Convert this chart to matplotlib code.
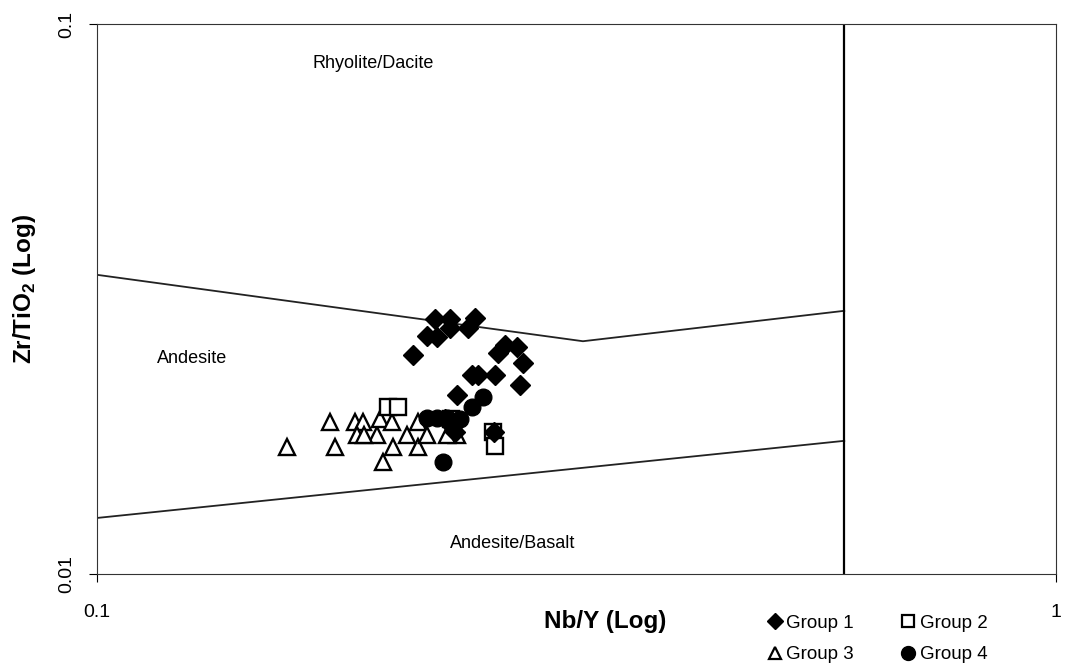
import matplotlib
matplotlib.use("Agg")
import matplotlib.pyplot as plt
from matplotlib.lines import Line2D

plt.rcParams["font.family"] = ["Liberation Sans", "DejaVu Sans"]

# Nb/Y vs Zr/TiO2 sample groups
g1_x = [0.2252, 0.2335, 0.2480, 0.2335, 0.2438, 0.2209, 0.2263, 0.2136, 0.2663,
        0.2741, 0.2619, 0.2781, 0.2761, 0.2462, 0.2497, 0.2600, 0.2375, 0.2307,
        0.2363, 0.2594]
g1_y = [0.0291, 0.0291, 0.0292, 0.0280, 0.0280, 0.0271, 0.0270, 0.0250, 0.0261,
        0.0259, 0.0252, 0.0242, 0.0221, 0.0230, 0.0230, 0.0230, 0.0212, 0.0191,
        0.0181, 0.0181]

g2_x = [0.2012, 0.2061, 0.2588, 0.2600, 0.2340]
g2_y = [0.0201, 0.0201, 0.0181, 0.0171, 0.0191]

g3_x = [0.1578, 0.1750, 0.1771, 0.1858, 0.1895, 0.1867, 0.1959, 0.1974, 0.2032,
        0.2037, 0.1988, 0.2106, 0.2162, 0.2162, 0.2209, 0.2375, 0.1900, 0.2318]
g3_y = [0.0170, 0.0189, 0.0170, 0.0189, 0.0189, 0.0179, 0.0179, 0.0191, 0.0189,
        0.0170, 0.0160, 0.0179, 0.0189, 0.0170, 0.0179, 0.0179, 0.0179, 0.0179]

g4_x = [0.2527, 0.2462, 0.2296, 0.2209, 0.2263, 0.2318, 0.2392, 0.2352]
g4_y = [0.0210, 0.0201, 0.0160, 0.0192, 0.0192, 0.0192, 0.0191, 0.0185]

# field boundaries
upper_x = [0.1, 0.321, 0.601]
upper_y = [0.0350, 0.0265, 0.0301]
lower_x = [0.1, 0.601]
lower_y = [0.01264, 0.01746]
divider_x = 0.601

fields = [
    ("Rhyolite/Dacite", 0.194, 0.0849),
    ("Andesite", 0.1256, 0.0247),
    ("Andesite/Basalt", 0.271, 0.01137),
]

fig = plt.figure(figsize=(10.66, 6.72), dpi=100)
ax = fig.add_axes([0.091, 0.146, 0.900, 0.818])
ax.set_xscale("log")
ax.set_yscale("log")
ax.set_xlim(0.1, 1)
ax.set_ylim(0.01, 0.1)

ax.plot(upper_x, upper_y, color="#222222", lw=1.3, zorder=2)
ax.plot(lower_x, lower_y, color="#222222", lw=1.3, zorder=2)
ax.axvline(divider_x, color="black", lw=1.6, zorder=2)

ax.plot(g3_x, g3_y, ls="none", marker="^", ms=12, mfc="white", mec="black",
        mew=1.7, zorder=3)
ax.plot(g2_x, g2_y, ls="none", marker="s", ms=11, mfc="white", mec="black",
        mew=1.7, zorder=3)
ax.plot(g4_x, g4_y, ls="none", marker="o", ms=12, color="black", zorder=4)
ax.plot(g1_x, g1_y, ls="none", marker="D", ms=10, color="black", zorder=5)

for name, fx, fy in fields:
    ax.text(fx, fy, name, ha="center", va="center", fontsize=13)

ax.set_xticks([0.1, 1])
ax.set_xticklabels(["0.1", "1"], fontsize=14)
ax.set_yticks([0.01, 0.1])
ax.set_yticklabels(["0.01", "0.1"], fontsize=14, rotation=90, va="center")
ax.minorticks_off()
ax.tick_params(axis="x", length=6, pad=16, width=0.8)
ax.tick_params(axis="y", length=6, pad=10, width=0.8)
for s in ax.spines.values():
    s.set_linewidth(0.8)
    s.set_color("#333333")

ax.set_xlabel("Nb/Y (Log)", fontsize=17.5, fontweight="bold")
ax.xaxis.set_label_coords(0.53, -0.066)
ax.set_ylabel("Zr/TiO$_\\mathregular{2}$ (Log)", fontsize=17.5, fontweight="bold")
ax.yaxis.set_label_coords(-0.061, 0.518)

handles = [
    Line2D([], [], ls="none", marker="D", ms=8, color="black"),
    Line2D([], [], ls="none", marker="^", ms=9, mfc="white", mec="black", mew=1.6),
    Line2D([], [], ls="none", marker="s", ms=9, mfc="white", mec="black", mew=1.6),
    Line2D([], [], ls="none", marker="o", ms=10, color="black"),
]
labels = ["Group 1", "Group 3", "Group 2", "Group 4"]
fig.legend(handles, labels, ncol=2, frameon=False, fontsize=13.5,
           loc="center", bbox_to_anchor=(0.824, 0.049),
           handlelength=0.6, handletextpad=0.3, columnspacing=2.6,
           labelspacing=0.75)

fig.savefig("out.png", dpi=100)
